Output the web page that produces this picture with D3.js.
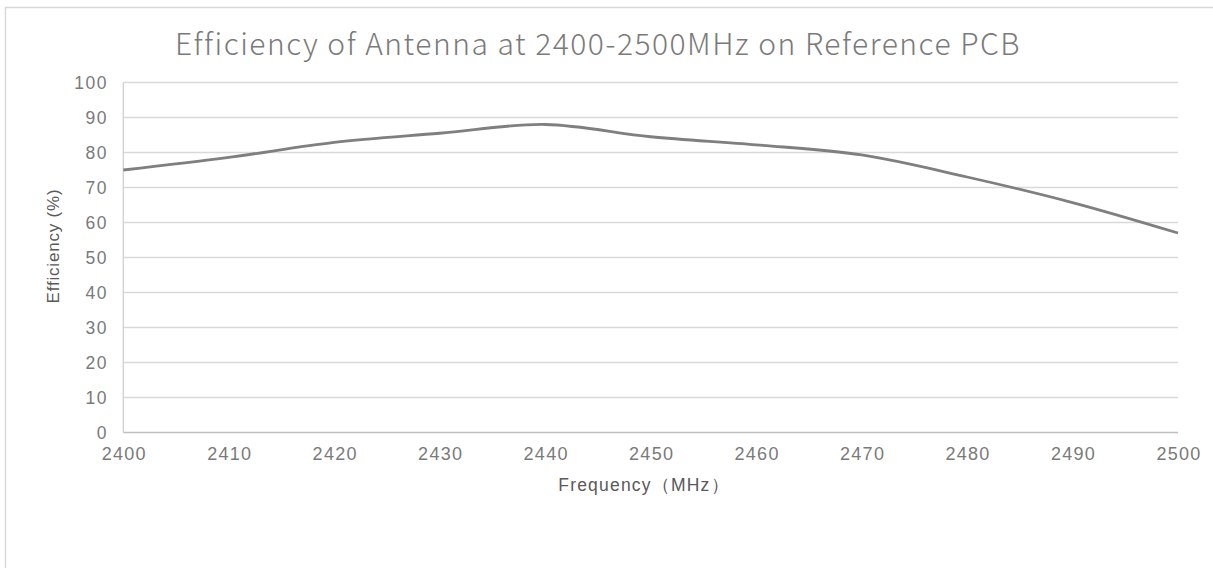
<!DOCTYPE html>
<html>
<head>
<meta charset="utf-8">
<script src="https://cdn.jsdelivr.net/npm/d3@7"></script>
<style>
  html, body { margin: 0; padding: 0; background: #fff; }
  svg { display: block; }
</style>
</head>
<body>
<svg id="chart" width="1213" height="568"></svg>
<script>
const titleText = "Efficiency of Antenna at 2400-2500MHz on Reference PCB";
const xTitle = "Frequency（MHz）";
const yTitle = "Efficiency (%)";
const frequencies = [2400, 2410, 2420, 2430, 2440, 2450, 2460, 2470, 2480, 2490, 2500];
const efficiency  = [75, 78.6, 82.9, 85.5, 88, 84.5, 82.2, 79.3, 73, 65.7, 57];
const xTicks = [2400, 2410, 2420, 2430, 2440, 2450, 2460, 2470, 2480, 2490, 2500];
const yTicks = [0, 10, 20, 30, 40, 50, 60, 70, 80, 90, 100];

(function () {
const svg = d3.select("#chart");
const W = 1213, H = 568;
const pL = 123.3, pR = 1178, pT = 82.5, pB = 432.5;

// chart frame (partial, cropped)
svg.append("path")
  .attr("d", `M5.5,${H + 2} L5.5,7.5 L${W + 2},7.5`)
  .attr("fill", "none").attr("stroke", "#d9d9d9").attr("stroke-width", 1.5);

const x = d3.scaleLinear().domain([2400, 2500]).range([pL, pR]);
const y = d3.scaleLinear().domain([0, 100]).range([pB, pT]);

// gridlines
svg.append("g").selectAll("line").data(yTicks.filter(d => d > 0)).join("line")
  .attr("x1", pL).attr("x2", pR)
  .attr("y1", d => y(d)).attr("y2", d => y(d))
  .attr("stroke", "#d9d9d9").attr("stroke-width", 1.3);

// axes lines
svg.append("line").attr("x1", pL).attr("x2", pR).attr("y1", pB).attr("y2", pB)
  .attr("stroke", "#bfbfbf").attr("stroke-width", 1.5);
svg.append("line").attr("x1", pL).attr("x2", pL).attr("y1", pT).attr("y2", pB)
  .attr("stroke", "#d0d0d0").attr("stroke-width", 1.3);

const font = "'Liberation Sans', Arial, sans-serif";

// y tick labels
svg.append("g").selectAll("text").data(yTicks).join("text")
  .attr("x", 108).attr("y", d => y(d))
  .attr("dy", "0.36em")
  .attr("text-anchor", "end")
  .attr("font-family", font).attr("font-size", 17.5)
  .attr("letter-spacing", 1.5)
  .attr("fill", "#7a7a7a")
  .text(d => d);

// x tick labels
svg.append("g").selectAll("text").data(xTicks).join("text")
  .attr("x", d => x(d) + 1).attr("y", 460)
  .attr("text-anchor", "middle")
  .attr("font-family", font)
  .attr("font-size", 18)
  .attr("letter-spacing", 1.3)
  .attr("fill", "#7a7a7a")
  .text(d => d);

// line
const line = d3.line()
  .x((d, i) => x(frequencies[i]))
  .y(d => y(d))
  .curve(d3.curveCardinal.tension(0));
svg.append("path").datum(efficiency)
  .attr("d", line)
  .attr("fill", "none")
  .attr("stroke", "#7f7f7f")
  .attr("stroke-width", 2.8)
  .attr("stroke-linejoin", "round");

// title
svg.append("text")
  .attr("x", 598).attr("y", 55)
  .attr("text-anchor", "middle")
  .attr("font-family", "'Noto Sans CJK SC', 'Noto Sans', sans-serif")
  .attr("font-weight", 300)
  .attr("font-size", 30)
  .attr("letter-spacing", 1.5)
  .attr("fill", "#7a7a7a")
  .text(titleText);

// axis titles
svg.append("text")
  .attr("x", 644).attr("y", 491)
  .attr("text-anchor", "middle")
  .attr("font-family", font).attr("font-size", 17.5)
  .attr("letter-spacing", 1.2)
  .attr("fill", "#595959")
  .text(xTitle);

svg.append("text")
  .attr("transform", "translate(59,246) rotate(-90)")
  .attr("text-anchor", "middle")
  .attr("font-family", font).attr("font-size", 17)
  .attr("letter-spacing", 0.8)
  .attr("fill", "#595959")
  .text(yTitle);
})();
</script>
</body>
</html>
